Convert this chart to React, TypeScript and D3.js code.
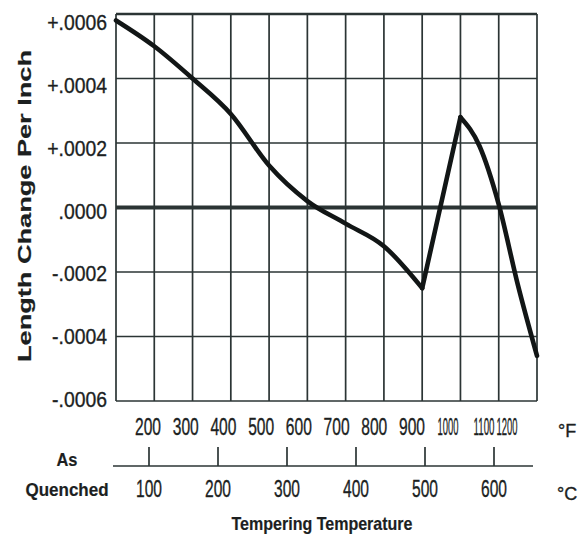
import React from "react";
import * as d3 from "d3";

// ---- data ----
const tempF = [100, 200, 300, 400, 500, 600, 700, 800, 900, 1000, 1050, 1100, 1150, 1200];
const lengthChange = [0.00058, 0.0005, 0.0004, 0.00029, 0.00013, 0.00002, -0.00005, -0.00012, -0.00025, 0.00028, 0.00019, 0.00001, -0.00024, -0.00046];
const cornerTemps = [900, 1000]; // sharp corners in the curve
const fGrid = [100, 200, 300, 400, 500, 600, 700, 800, 900, 1000, 1100, 1200];
const fTickLabels = ["200", "300", "400", "500", "600", "700", "800", "900", "1000", "1100", "1200"];
const cTicks = [100, 200, 300, 400, 500, 600];
const yTicks = [0.0006, 0.0004, 0.0002, 0, -0.0002, -0.0004, -0.0006];
const yTickLabels = ["+.0006", "+.0004", "+.0002", ".0000", "-.0002", "-.0004", "-.0006"];

const W = 578;
const H = 545;
const FONT = "'Liberation Sans', Arial, Helvetica, sans-serif";
const INK = "#1c1f1f";
const GRID = "#2b3434";

function Txt(props: any) {
  const { x, y, children, size = 21, anchor = "middle", weight = 400, len, sx = 1, rotate = 0, bold = 0.35 } = props;
  return (
    <text
      transform={`translate(${x},${y}) rotate(${rotate}) scale(${sx},1)`}
      textAnchor={anchor}
      fontFamily={FONT}
      fontSize={size}
      fontWeight={weight}
      fill={INK}
      stroke={INK}
      strokeWidth={bold}
      textLength={len}
      lengthAdjust={len ? "spacingAndGlyphs" : undefined}
    >
      {children}
    </text>
  );
}

export default function App() {
  const x = d3.scaleLinear().domain([100, 1200]).range([116, 537]);
  const y = d3.scaleLinear().domain([-0.0006, 0.0006]).range([401, 14]);
  const yLab = d3.scaleLinear().domain([-0.0006, 0.0006]).range([407, 30]);
  const fLab = d3.scaleLinear().domain([200, 900, 1000, 1100, 1200]).range([148, 412, 448, 484, 507]);
  const cScale = d3.scaleLinear().domain([100, 600]).range([149, 494]);

  const pts = tempF.map((t, i) => ({ t, v: lengthChange[i] }));
  const i1 = tempF.indexOf(cornerTemps[0]);
  const i2 = tempF.indexOf(cornerTemps[1]);
  const segs = [
    { d: pts.slice(0, i1 + 1), curve: d3.curveMonotoneX },
    { d: pts.slice(i1, i2 + 1), curve: d3.curveLinear },
    { d: pts.slice(i2), curve: d3.curveMonotoneX },
  ];
  const pathFor = (s: any) =>
    d3
      .line<any>()
      .x((p) => x(p.t))
      .y((p) => y(p.v))
      .curve(s.curve)(s.d) as string;

  const [x0, x1] = x.range();
  const [yb, yt] = y.range();
  const cLineY = 466;

  return (
    <svg width={W} height={H} style={{ position: "absolute", left: 0, top: 0, background: "#fff" }}>
      {/* vertical grid */}
      {fGrid.map((t) => (
        <line key={"v" + t} x1={x(t)} x2={x(t)} y1={yt} y2={yb} stroke={GRID} strokeWidth={1.7} />
      ))}
      {/* horizontal grid */}
      {yTicks.map((v) => (
        <line
          key={"h" + v}
          x1={x0}
          x2={x1}
          y1={y(v)}
          y2={y(v)}
          stroke={GRID}
          strokeWidth={v === 0 ? 4 : v === 0.0006 ? 2.6 : 1.7}
        />
      ))}
      {/* curve */}
      {segs.map((s, i) => (
        <path
          key={"s" + i}
          d={pathFor(s)}
          fill="none"
          stroke="#121616"
          strokeWidth={4.6}
          strokeLinejoin="round"
          strokeLinecap="round"
        />
      ))}
      {/* y tick labels */}
      {yTicks.map((v, i) => (
        <Txt key={"yl" + v} x={107} y={yLab(v)} anchor="end" size={22} sx={0.88}>
          {yTickLabels[i]}
        </Txt>
      ))}
      {/* y title */}
      <Txt x={31} y={206} rotate={-90} size={18} weight={700} len={312} bold={0.2}>
        Length Change Per Inch
      </Txt>
      {/* F labels */}
      {fTickLabels.map((s) => (
        <Txt key={"fl" + s} x={fLab(+s)} y={435} size={23} len={s.length > 3 ? 21 : 26}>
          {s}
        </Txt>
      ))}
      <Txt x={558} y={437} anchor="start" size={18}>
        °F
      </Txt>
      {/* Celsius axis */}
      <line x1={113} x2={533} y1={cLineY} y2={cLineY} stroke={GRID} strokeWidth={1.7} />
      {cTicks.map((c) => (
        <line key={"ct" + c} x1={cScale(c)} x2={cScale(c)} y1={cLineY - 19} y2={cLineY} stroke={GRID} strokeWidth={1.7} />
      ))}
      {cTicks.map((c) => (
        <Txt key={"cl" + c} x={cScale(c)} y={497} size={23} len={26}>
          {String(c)}
        </Txt>
      ))}
      <Txt x={557} y={500} anchor="start" size={18}>
        °C
      </Txt>
      {/* As Quenched */}
      <Txt x={67} y={466} size={19} weight={700} len={21} bold={0.2}>
        As
      </Txt>
      <Txt x={67} y={496} size={19} weight={700} len={83} bold={0.2}>
        Quenched
      </Txt>
      {/* x title */}
      <Txt x={322} y={530} size={19} weight={700} len={181} bold={0.2}>
        Tempering Temperature
      </Txt>
    </svg>
  );
}
